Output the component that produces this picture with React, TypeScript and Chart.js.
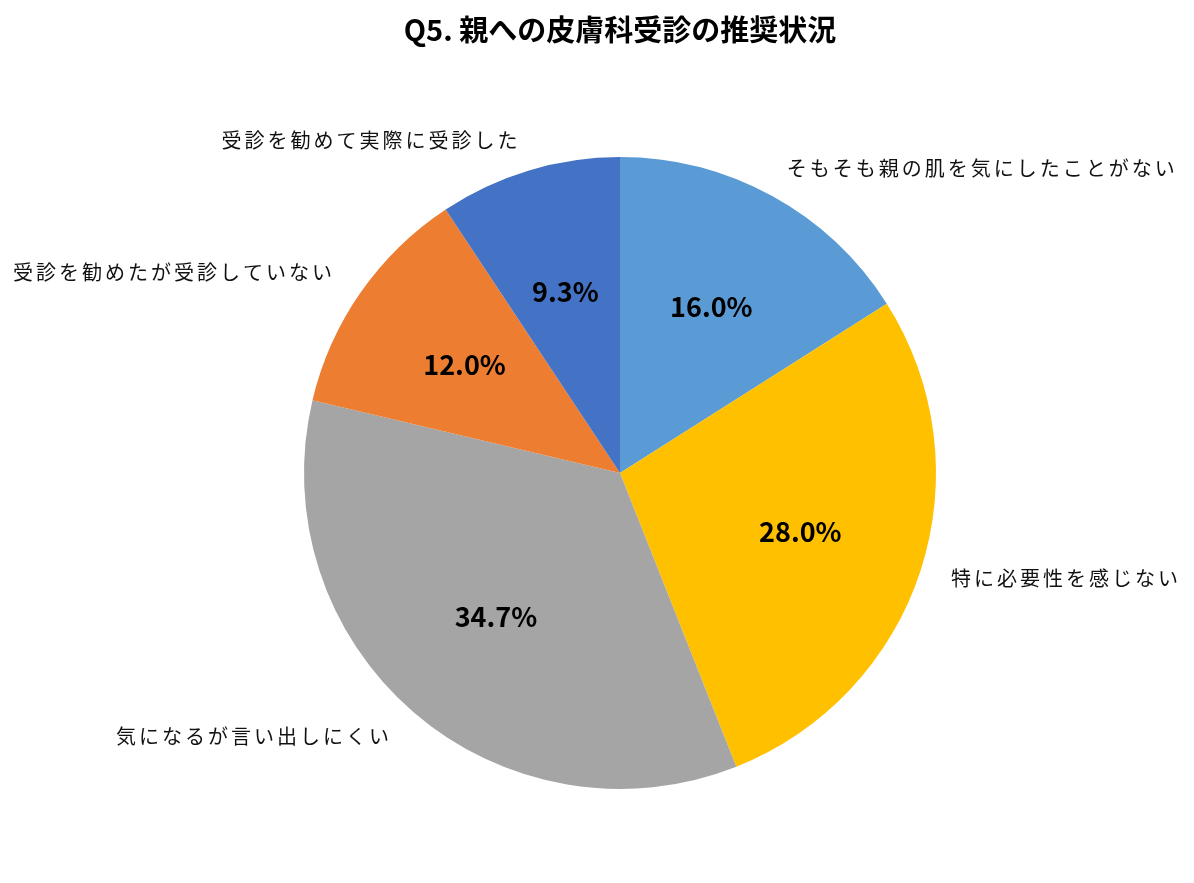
import React, { useEffect, useRef } from "react";
import { Chart, registerables } from "chart.js";

Chart.register(...registerables);

const TITLE = "Q5. 親への皮膚科受診の推奨状況";
const categories = [
  "そもそも親の肌を気にしたことがない",
  "特に必要性を感じない",
  "気になるが言い出しにくい",
  "受診を勧めたが受診していない",
  "受診を勧めて実際に受診した",
];
const values = [16.0, 28.0, 34.7, 12.0, 9.3];
const colors = ["#5B9BD5", "#FFC000", "#A5A5A5", "#ED7D31", "#4472C4"];
// label anchor positions relative to pie center, in units of radius
const labelAnchorX = [1.146, 1.411, -1.158, -1.411, -0.788];
const labelAnchorY = [-0.965, 0.335, 0.835, -0.636, -1.054];

const FONT = '"Noto Sans CJK JP", "Noto Sans", sans-serif';

const labelPlugin = {
  id: "pieLabels",
  afterDraw(chart: any) {
    const ctx = chart.ctx as CanvasRenderingContext2D;
    const meta = chart.getDatasetMeta(0);
    ctx.save();
    // title
    ctx.fillStyle = "#000";
    ctx.font = `bold 29px ${FONT}`;
    ctx.textAlign = "center";
    ctx.textBaseline = "middle";
    ctx.fillText(TITLE, chart.width / 2 + 23, 30);

    meta.data.forEach((arc: any, i: number) => {
      const { x, y, startAngle, endAngle, outerRadius } = arc.getProps(
        ["x", "y", "startAngle", "endAngle", "outerRadius"],
        true
      );
      const mid = (startAngle + endAngle) / 2;
      const d = outerRadius * 0.6;
      ctx.font = `bold 27px ${FONT}`;
      ctx.fillStyle = "#000";
      ctx.textAlign = "center";
      ctx.textBaseline = "middle";
      ctx.fillText(values[i].toFixed(1) + "%", x + d * Math.cos(mid), y + d * Math.sin(mid));

      ctx.font = `20px ${FONT}`;
      (ctx as any).letterSpacing = "3px";
      ctx.fillStyle = "#111";
      ctx.fillText(
        categories[i],
        x + labelAnchorX[i] * outerRadius,
        y + labelAnchorY[i] * outerRadius
      );
      (ctx as any).letterSpacing = "0px";
    });
    ctx.restore();
  },
};

export default function App() {
  const ref = useRef<HTMLCanvasElement>(null);
  useEffect(() => {
    if (!ref.current) return;
    const chart = new Chart(ref.current, {
      type: "pie",
      data: {
        labels: categories,
        datasets: [
          {
            data: values,
            backgroundColor: colors,
            borderWidth: 0,
          },
        ],
      },
      options: {
        animation: false,
        responsive: false,
        layout: { padding: { left: 304, right: 258, top: 157, bottom: 94 } },
        plugins: {
          legend: { display: false },
          tooltip: { enabled: false },
          title: { display: false },
        },
      },
      plugins: [labelPlugin],
    });
    return () => chart.destroy();
  }, []);
  return (
    <div style={{ position: "fixed", left: 0, top: 0, width: 1194, height: 883, background: "#fff" }}>
      <canvas ref={ref} width={1194} height={883} />
    </div>
  );
}
